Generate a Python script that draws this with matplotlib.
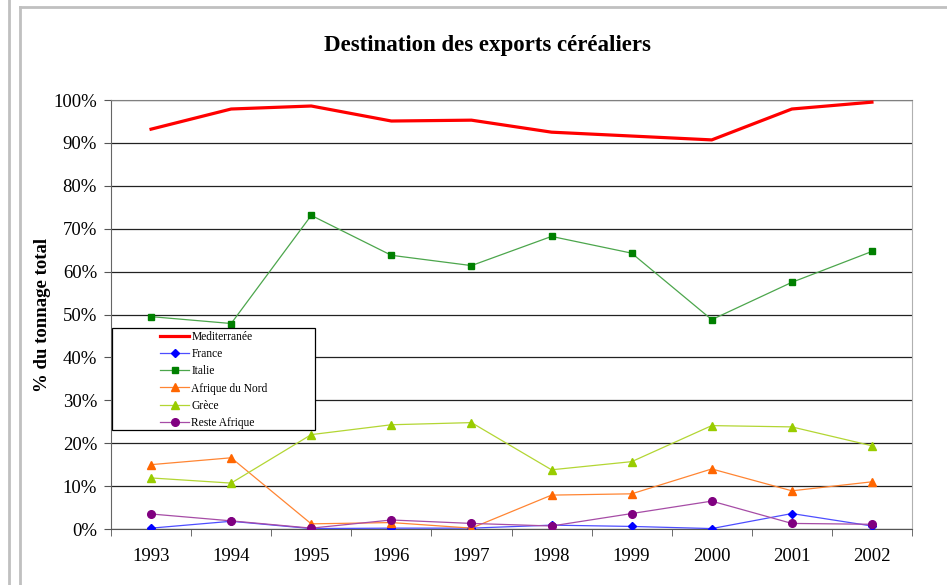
import numpy as np
import matplotlib.pyplot as plt
from matplotlib.lines import Line2D
from matplotlib.patches import Rectangle

plt.rcParams['font.family'] = ['Liberation Serif', 'DejaVu Serif']

years = ['1993', '1994', '1995', '1996', '1997', '1998', '1999', '2000', '2001', '2002']
mediterranee = [93.2, 97.9, 98.6, 95.1, 95.3, 92.5, 91.6, 90.7, 97.9, 99.5]
france = [0.2, 1.8, 0.1, 0.2, 0.2, 0.9, 0.6, 0.1, 3.6, 0.7]
italie = [49.5, 47.9, 73.1, 63.8, 61.4, 68.2, 64.3, 48.8, 57.5, 64.7]
afrique_nord = [15.0, 16.6, 1.2, 1.5, 0.2, 7.9, 8.2, 14.0, 8.9, 11.0]
grece = [11.9, 10.7, 22.0, 24.3, 24.8, 13.8, 15.7, 24.1, 23.8, 19.4]
reste_afrique = [3.5, 1.9, 0.2, 2.1, 1.3, 0.7, 3.6, 6.5, 1.3, 1.1]

W, H = 947, 585
fig = plt.figure(figsize=(W / 100, H / 100), dpi=100)
ax = fig.add_axes([111 / W, 56 / H, 801 / W, 429 / H])

x = np.arange(len(years))
ax.plot(x, mediterranee, color='#ff0000', lw=2.3, label='Mediterranée', zorder=5)
ax.plot(x, france, color='#4d4dff', lw=0.9, marker='D', ms=4.2,
        mfc='#0000ff', mec='#0000ff', label='France', zorder=5)
ax.plot(x, italie, color='#4ca64c', lw=0.9, marker='s', ms=5,
        mfc='#008000', mec='#008000', label='Italie', zorder=5)
ax.plot(x, afrique_nord, color='#ff8533', lw=0.9, marker='^', ms=6.2,
        mfc='#ff6600', mec='#ff6600', label='Afrique du Nord', zorder=5)
ax.plot(x, grece, color='#b3d633', lw=0.9, marker='^', ms=6.2,
        mfc='#99cc00', mec='#99cc00', label='Grèce', zorder=5)
ax.plot(x, reste_afrique, color='#a64ca6', lw=0.9, marker='o', ms=5.5,
        mfc='#800080', mec='#800080', label='Reste Afrique', zorder=5)

ax.set_xlim(-0.5, len(years) - 0.5)
ax.set_ylim(0, 100)
ax.set_yticks(np.arange(0, 101, 10))
ax.set_yticklabels([f'{v}%' for v in range(0, 101, 10)], fontsize=13.5)
ax.set_xticks(x)
ax.set_xticklabels(years, fontsize=13.5)
ax.set_xticks(np.arange(-0.5, len(years), 1), minor=True)
ax.tick_params(axis='x', which='major', length=0, pad=14)
ax.tick_params(axis='x', which='minor', length=5, direction='out', color='#555555')
ax.tick_params(axis='y', length=5, direction='out', color='#555555', pad=5)
ax.yaxis.grid(True, color='#222222', lw=0.9)
ax.set_axisbelow(True)
ax.spines['right'].set_color('#b0b0b0')
ax.spines['top'].set_color('#808080')
ax.spines['left'].set_color('#666666')
ax.spines['bottom'].set_color('#555555')

ax.set_ylabel('% du tonnage total', fontsize=13.5, fontweight='bold', labelpad=2)
fig.text(487 / W, 1 - 45 / H, 'Destination des exports céréaliers', fontsize=16.5,
         fontweight='bold', ha='center', va='center')

# legend box
fig.add_artist(Rectangle((112 / W, 1 - 430 / H), 203 / W, 102 / H, transform=fig.transFigure,
                         facecolor='white', edgecolor='black', lw=0.9, zorder=10))
leg = fig.legend(loc='upper left', bbox_to_anchor=(158 / W, 1 - 329 / H), frameon=False,
                 fontsize=8.3, handlelength=2.5, handletextpad=0.2, labelspacing=0.44,
                 borderpad=0.2, borderaxespad=0)
leg.set_zorder(11)

# outer frame lines
for xx in [9, 20]:
    y0 = 0 if xx == 9 else 7
    fig.add_artist(Line2D([xx / W, xx / W], [0, 1 - y0 / H], transform=fig.transFigure,
                          color='#c0c0c0', lw=2))
fig.add_artist(Line2D([20 / W, 1], [1 - 7 / H, 1 - 7 / H], transform=fig.transFigure,
                      color='#c0c0c0', lw=2))

fig.savefig('out.png', dpi=100)
